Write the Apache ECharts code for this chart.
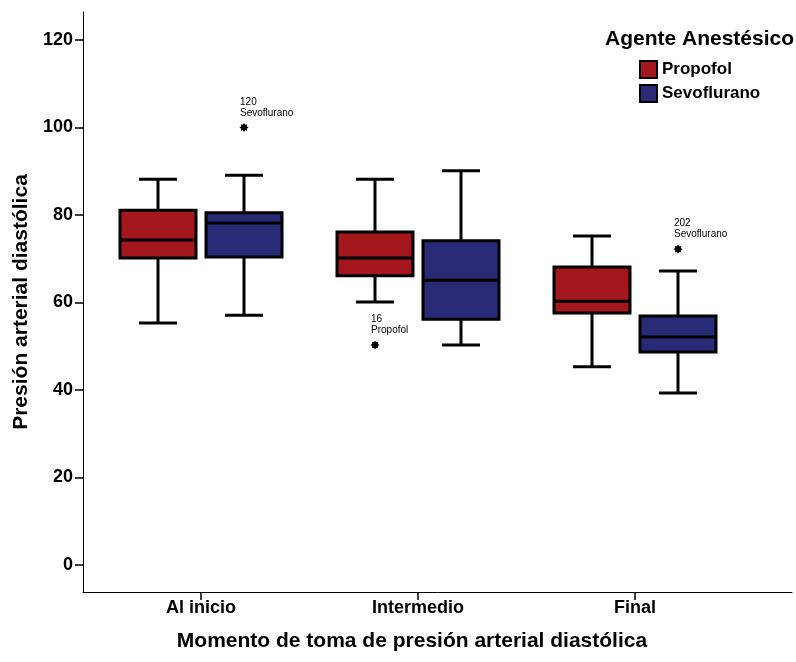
<!DOCTYPE html>
<html>
<head>
<meta charset="utf-8">
<script src="https://cdn.jsdelivr.net/npm/echarts@6/dist/echarts.min.js"></script>
<style>html,body{margin:0;padding:0;background:#fff}#c{width:796px;height:662px}</style>
</head>
<body>
<div id="c"></div>
<script>
const categories = ['Al inicio', 'Intermedio', 'Final'];
const groups = ['Propofol', 'Sevoflurano'];
// [low whisker, Q1, median, Q3, high whisker] per category
const propofolStats = [
  [55.3, 70.2, 74.3, 81.1, 88.2],
  [60.1, 66.1, 70.2, 76.1, 88.2],
  [45.3, 57.6, 60.3, 68.1, 75.2]
];
const sevofluranoStats = [
  [57.1, 70.4, 78.2, 80.5, 89.1],
  [50.3, 56.2, 65.1, 74.1, 90.1],
  [39.3, 48.7, 52.1, 56.9, 67.2]
];
const outlierCats = [0, 1, 2];
const outlierValues = [100, 50.3, 72.2];
const outlierIds = ['120', '16', '202'];
const outlierGroups = ['Sevoflurano', 'Propofol', 'Sevoflurano'];
const yTicks = [0, 20, 40, 60, 80, 100, 120];

const colors = { Propofol: '#A3171D', Sevoflurano: '#282A75' };
const offsets = { Propofol: -43, Sevoflurano: 43 };
const FONT = "'Liberation Sans', Arial, sans-serif";

function boxRenderer(group) {
  return function (params, api) {
    const x = api.value(0);
    const cx = api.coord([x, api.value(3)])[0] + offsets[group];
    const y = i => api.coord([x, api.value(i)])[1];
    const yLow = y(1), yQ1 = y(2), yMed = y(3), yQ3 = y(4), yHigh = y(5);
    const hw = 38, cap = 19;
    const ls = { stroke: '#000', lineWidth: 3 };
    return {
      type: 'group',
      children: [
        { type: 'line', shape: { x1: cx, y1: yHigh, x2: cx, y2: yQ3 }, style: ls },
        { type: 'line', shape: { x1: cx, y1: yQ1, x2: cx, y2: yLow }, style: ls },
        { type: 'line', shape: { x1: cx - cap, y1: yHigh, x2: cx + cap, y2: yHigh }, style: ls },
        { type: 'line', shape: { x1: cx - cap, y1: yLow, x2: cx + cap, y2: yLow }, style: ls },
        { type: 'rect', shape: { x: cx - hw, y: yQ3, width: hw * 2, height: yQ1 - yQ3 },
          style: { fill: colors[group], stroke: '#000', lineWidth: 3 } },
        { type: 'line', shape: { x1: cx - hw, y1: yMed, x2: cx + hw, y2: yMed }, style: ls }
      ]
    };
  };
}

function starPoints(cx, cy, r, r0, n) {
  const pts = [];
  for (let k = 0; k < n * 2; k++) {
    const a = Math.PI * k / n - Math.PI / 2;
    const rr = k % 2 === 0 ? r : r0;
    pts.push([cx + rr * Math.cos(a), cy + rr * Math.sin(a)]);
  }
  return pts;
}

function outlierRenderer(params, api) {
  const idx = params.dataIndex;
  const g = outlierGroups[idx];
  const c = api.coord([api.value(0), api.value(1)]);
  const cx = c[0] + offsets[g], cy = c[1];
  return {
    type: 'group',
    children: [
      { type: 'polygon', shape: { points: starPoints(cx, cy, 4.5, 3, 8) }, style: { fill: '#000' } },
      { type: 'text', style: { text: outlierIds[idx] + '\n' + g, x: cx - 4, y: cy - 9,
          align: 'left', verticalAlign: 'bottom', font: '10px ' + FONT, lineHeight: 11, fill: '#000' } }
    ]
  };
}

const chart = echarts.init(document.getElementById('c'), null, { renderer: 'canvas' });
chart.setOption({
  animation: false,
  backgroundColor: '#fff',
  grid: { left: 83, right: 4, top: 12, bottom: 70 },
  xAxis: {
    type: 'value', min: -0.5438, max: 2.7235,
    splitLine: { show: false },
    axisLine: { onZero: false, lineStyle: { color: '#000', width: 1 } },
    axisTick: { customValues: [0, 1, 2], length: 8, lineStyle: { color: '#000', width: 1.5 } },
    axisLabel: { customValues: [0, 1, 2], formatter: v => categories[Math.round(v)],
      color: '#000', fontWeight: 'bold', fontSize: 18, fontFamily: FONT, margin: 7 }
  },
  yAxis: {
    type: 'value', min: -6.17, max: 126.4,
    name: 'Presión arterial diastólica', nameLocation: 'middle', nameGap: 50, nameRotate: 90,
    nameTextStyle: { color: '#000', fontWeight: 'bold', fontSize: 21, fontFamily: FONT },
    splitLine: { show: false },
    axisLine: { show: true, onZero: false, lineStyle: { color: '#000', width: 1 } },
    axisTick: { show: true, customValues: yTicks, length: 8, lineStyle: { color: '#000', width: 1.5 } },
    axisLabel: { customValues: yTicks, color: '#000', fontWeight: 'bold', fontSize: 18, fontFamily: FONT, margin: 10 }
  },
  legend: {
    orient: 'vertical', left: 639, top: 60, padding: 0, itemWidth: 17, itemHeight: 17, itemGap: 5,
    icon: 'rect', data: groups,
    itemStyle: { borderColor: '#000', borderWidth: 2 },
    textStyle: { color: '#000', fontWeight: 'bold', fontSize: 17, fontFamily: FONT }
  },
  graphic: [
    { type: 'text', left: 605, top: 29, style: { text: 'Agente Anestésico', fill: '#000',
        font: 'bold 21px ' + FONT } },
    { type: 'text', x: 412, y: 641, style: { text: 'Momento de toma de presión arterial diastólica',
        fill: '#000', font: 'bold 21px ' + FONT, align: 'center', verticalAlign: 'middle' } }
  ],
  series: [
    { name: 'Propofol', type: 'custom', renderItem: boxRenderer('Propofol'),
      itemStyle: { color: colors.Propofol },
      data: propofolStats.map((s, i) => [i].concat(s)), encode: { x: 0, y: [1, 2, 3, 4, 5] } },
    { name: 'Sevoflurano', type: 'custom', renderItem: boxRenderer('Sevoflurano'),
      itemStyle: { color: colors.Sevoflurano },
      data: sevofluranoStats.map((s, i) => [i].concat(s)), encode: { x: 0, y: [1, 2, 3, 4, 5] } },
    { name: 'outliers', type: 'custom', renderItem: outlierRenderer,
      data: outlierCats.map((c, i) => [c, outlierValues[i]]), encode: { x: 0, y: 1 } }
  ]
});
</script>
</body>
</html>
